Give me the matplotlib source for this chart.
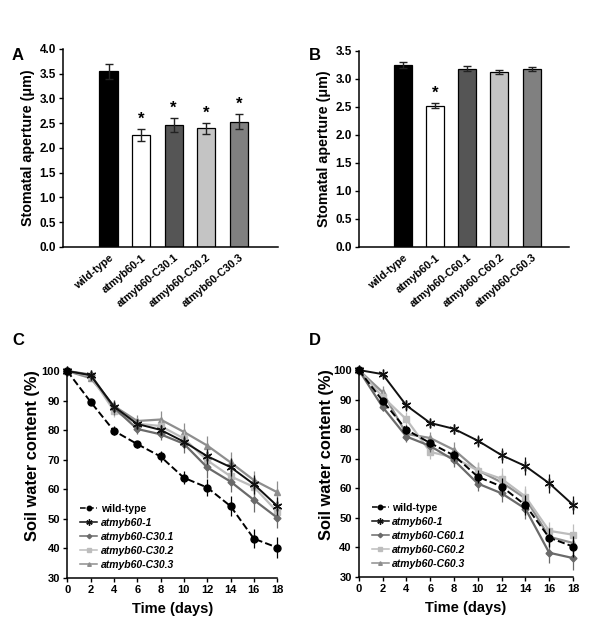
import numpy as np
import matplotlib
matplotlib.use("Agg")
import matplotlib.pyplot as plt
from matplotlib.lines import Line2D

plt.rcParams['font.family'] = ['Liberation Sans', 'DejaVu Sans']
plt.rcParams['font.weight'] = 'bold'

# =========================
# Données - histogrammes (A, B)
# =========================
lignes_A = ["wild-type", "atmyb60-1", "atmyb60-C30.1", "atmyb60-C30.2", "atmyb60-C30.3"]
ouv_A = [3.55, 2.26, 2.46, 2.40, 2.53]
err_A = [0.15, 0.12, 0.14, 0.11, 0.15]
signif_A = [False, True, True, True, True]

lignes_B = ["wild-type", "atmyb60-1", "atmyb60-C60.1", "atmyb60-C60.2", "atmyb60-C60.3"]
ouv_B = [3.25, 2.52, 3.18, 3.12, 3.17]
err_B = [0.05, 0.04, 0.05, 0.04, 0.04]
signif_B = [False, True, False, False, False]

couleurs_barres = ["#000000", "#ffffff", "#555555", "#c4c4c4", "#808080"]

# =========================
# Données - teneur en eau du sol (C, D)
# =========================
jours = [0, 2, 4, 6, 8, 10, 12, 14, 16, 18]

wt = [100, 89.6, 79.8, 75.3, 71.1, 63.9, 60.6, 54.3, 43.3, 40.3]
wt_err = [0.5, 1.0, 1.5, 1.2, 2.0, 2.2, 3.0, 3.5, 3.3, 3.6]
mut = [100, 98.6, 88.0, 82.1, 80.1, 76.1, 71.2, 67.5, 61.7, 54.4]
mut_err = [0.5, 0.8, 2.0, 1.5, 1.8, 2.0, 2.5, 3.0, 3.2, 3.0]

c30_1 = [100, 98.8, 87.6, 80.4, 78.6, 75.4, 67.4, 62.6, 56.4, 50.4]
c30_1_err = [0.5, 1.0, 2.5, 1.8, 2.0, 3.0, 3.5, 3.5, 4.0, 3.5]
c30_2 = [100, 98.4, 86.6, 82.2, 81.4, 77.2, 69.8, 64.4, 60.8, 52.4]
c30_2_err = [0.5, 1.0, 2.0, 1.8, 2.2, 2.5, 3.0, 3.0, 3.0, 3.0]
c30_3 = [100, 97.6, 88.2, 83.1, 83.6, 79.4, 74.8, 69.1, 63.1, 59.0]
c30_3_err = [0.5, 1.0, 2.0, 2.0, 2.8, 3.0, 3.2, 3.5, 3.0, 3.8]

c60_1 = [100, 87.5, 77.5, 74.3, 69.5, 61.6, 58.3, 53.1, 38.2, 36.4]
c60_1_err = [0.5, 1.5, 2.0, 2.0, 2.2, 2.5, 3.0, 3.5, 3.5, 4.0]
c60_2 = [100, 91.0, 83.3, 72.3, 70.4, 66.0, 63.2, 57.2, 45.6, 44.3]
c60_2_err = [0.5, 2.0, 2.5, 2.5, 2.5, 2.8, 3.5, 3.5, 3.0, 3.5]
c60_3 = [100, 92.5, 78.4, 77.0, 73.0, 66.1, 62.0, 56.6, 43.6, 41.5]
c60_3_err = [0.5, 2.0, 2.0, 2.0, 2.8, 2.5, 3.0, 3.0, 3.0, 3.5]

noms_C = ["wild-type", "atmyb60-1", "atmyb60-C30.1", "atmyb60-C30.2", "atmyb60-C30.3"]
noms_D = ["wild-type", "atmyb60-1", "atmyb60-C60.1", "atmyb60-C60.2", "atmyb60-C60.3"]

styles = [
    dict(color="#000000", ls="--", marker="o", ms=5.0, lw=1.4),
    dict(color="#111111", ls="-", marker=(6, 2, 0), ms=7, lw=1.4, mew=1.0),
    dict(color="#6a6a6a", ls="-", marker="D", ms=3.5, lw=1.6),
    dict(color="#bdbdbd", ls="-", marker="s", ms=4, lw=1.6),
    dict(color="#8e8e8e", ls="-", marker="^", ms=4, lw=1.6),
]

fig = plt.figure(figsize=(6, 6.31), dpi=100)

# =========================
# Histogrammes
# =========================
def histo(ax, labels, vals, errs, signif, ymax, yticks):
    x = np.arange(len(vals))
    ax.bar(x, vals, width=0.56, color=couleurs_barres, edgecolor="black", linewidth=0.9,
           yerr=errs, error_kw=dict(ecolor="#222222", elinewidth=1.0, capsize=3, capthick=1.0))
    for xi, v, e, s in zip(x, vals, errs, signif):
        if s:
            ax.text(xi, v + e + 0.04, "*", ha="center", va="bottom", fontsize=12, fontweight="bold")
    ax.set_xlim(-1.4, 5.2)
    ax.set_ylim(0, ymax)
    ax.set_yticks(yticks)
    ax.set_yticklabels([f"{t:.1f}" for t in yticks], fontsize=8.5, fontweight="bold")
    ax.set_xticks(x)
    ax.set_xticklabels(labels, rotation=40, ha="right", rotation_mode="anchor",
                       fontsize=7.8, fontweight="bold")
    ax.tick_params(axis="x", length=0, pad=4)
    ax.tick_params(axis="y", length=3, width=1, direction="out", pad=2)
    ax.spines["top"].set_visible(False)
    ax.spines["right"].set_visible(False)
    ax.spines["left"].set_linewidth(1.1)
    ax.spines["bottom"].set_linewidth(1.1)
    ax.set_ylabel("Stomatal aperture (\u03bcm)", fontsize=10.3, fontweight="bold", labelpad=3)

axA = fig.add_axes([0.105, 0.6086, 0.358, 0.314])
histo(axA, lignes_A, ouv_A, err_A, signif_A, 4.0, np.arange(0, 4.01, 0.5))

axB = fig.add_axes([0.598, 0.6086, 0.35, 0.311])
histo(axB, lignes_B, ouv_B, err_B, signif_B, 3.5, np.arange(0, 3.51, 0.5))
axB.set_xlim(-1.36, 5.15)

# =========================
# Courbes
# =========================
def courbes(ax, series, erreurs, noms, xlab):
    poignees = []
    for i, (y, e, nom) in enumerate(zip(series, erreurs, noms)):
        st = styles[i]
        ax.errorbar(jours, y, yerr=e, color=st["color"], ls=st["ls"], lw=st["lw"],
                    marker=st["marker"], ms=st["ms"], mew=st.get("mew", 1.0),
                    mfc=st["color"], mec=st["color"], elinewidth=0.9, capsize=0,
                    zorder=5 - i if i else 6, clip_on=False)
        poignees.append(Line2D([], [], color=st["color"], ls=st["ls"], lw=1.1,
                               marker=st["marker"], ms=st["ms"] * 0.65,
                               mfc=st["color"], mec=st["color"], label=nom))
    ax.set_xlim(0, 18)
    ax.set_ylim(30, 100)
    ax.set_xticks(range(0, 19, 2))
    ax.set_yticks(range(30, 101, 10))
    ax.tick_params(labelsize=8, length=3, width=1, direction="out", pad=2)
    for lab in ax.get_xticklabels() + ax.get_yticklabels():
        lab.set_fontweight("bold")
    ax.spines["top"].set_visible(False)
    ax.spines["right"].set_visible(False)
    ax.spines["left"].set_linewidth(1.1)
    ax.spines["bottom"].set_linewidth(1.1)
    ax.set_xlabel("Time (days)", fontsize=10.5, fontweight="bold", labelpad=5)
    ax.set_ylabel("Soil water content (%)", fontsize=11.8, fontweight="bold")
    ax.yaxis.set_label_coords(xlab, 0.59)
    leg = ax.legend(handles=poignees, loc="lower left", bbox_to_anchor=(0.04, 0.02),
                    frameon=False, fontsize=7.5, handlelength=1.7, handletextpad=0.3,
                    labelspacing=0.38, borderaxespad=0)
    for j, t in enumerate(leg.get_texts()):
        t.set_fontweight("bold")
        if j > 0:
            t.set_fontstyle("italic")

axC = fig.add_axes([0.112, 0.084, 0.35, 0.328])
courbes(axC, [wt, mut, c30_1, c30_2, c30_3],
        [wt_err, mut_err, c30_1_err, c30_2_err, c30_3_err], noms_C, -0.13)

axD = fig.add_axes([0.598, 0.0856, 0.357, 0.328])
courbes(axD, [wt, mut, c60_1, c60_2, c60_3],
        [wt_err, mut_err, c60_1_err, c60_2_err, c60_3_err], noms_D, -0.115)

# Lettres des panneaux
for lettre, (xf, yf) in zip("ABCD", [(0.02, 0.912), (0.515, 0.912), (0.02, 0.46), (0.515, 0.46)]):
    fig.text(xf, yf, lettre, fontsize=12, fontweight="bold", ha="left", va="center")

fig.savefig("out.png", dpi=100)
